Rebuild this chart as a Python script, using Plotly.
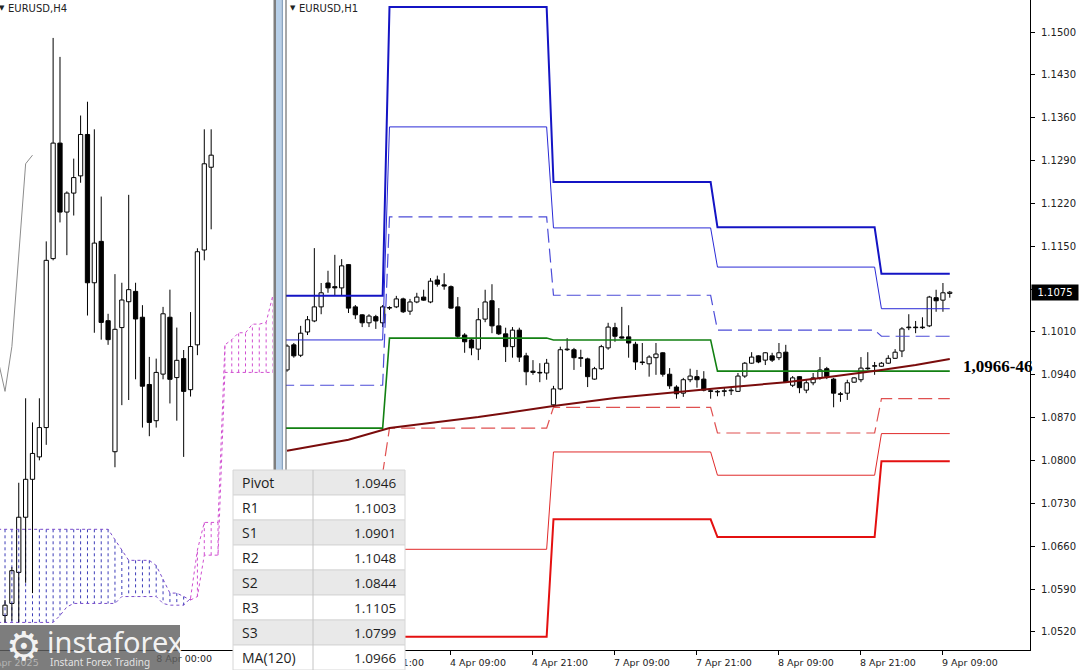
import plotly.graph_objects as go

W, H = 1082, 670

# ---------------- H1 chart data (3 Apr 09:00 ... 9 Apr 10:00, one bar per trading hour) -------------
h1_open = [1.0948, 1.0989, 1.0972, 1.1010, 1.1028, 1.1051, 1.1090, 1.1084, 1.1082, 1.1120,
           1.1051, 1.1038, 1.1025, 1.1035, 1.1025, 1.1049, 1.1051, 1.1064, 1.1044, 1.1059,
           1.1067, 1.1059, 1.1095, 1.1087, 1.1084, 1.1051, 1.1005, 1.0997, 1.0982, 1.1031,
           1.1061, 1.1020, 1.1007, 1.0986, 1.1013, 1.0971, 1.0946, 1.0944, 1.0943, 1.0891,
           1.0917, 1.0981, 1.0981, 1.0968, 1.0966, 1.0933, 1.0950, 1.0984, 1.1017, 1.1002,
           1.1002, 1.0990, 1.0961, 1.0958, 1.0968, 1.0976, 1.0941, 1.0920, 1.0910, 1.0932,
           1.0937, 1.0933, 1.0914, 1.0912, 1.0913, 1.0914, 1.0913, 1.0938, 1.0959, 1.0971,
           1.0964, 1.0971, 1.0968, 1.0977, 1.0923, 1.0937, 1.0915, 1.0927, 1.0935, 1.0950,
           1.0933, 1.0909, 1.0910, 1.0928, 1.0932, 1.0951, 1.0954, 1.0954, 1.0959, 1.0967,
           1.0979, 1.1017, 1.1018, 1.1017, 1.1020, 1.1066, 1.1062, 1.1073]
h1_high = [1.0990, 1.0992, 1.1020, 1.1036, 1.1147, 1.1090, 1.1110, 1.1136, 1.1129, 1.1121,
           1.1054, 1.1039, 1.1039, 1.1038, 1.1054, 1.1052, 1.1069, 1.1066, 1.1064, 1.1074,
           1.1079, 1.1098, 1.1102, 1.1106, 1.1086, 1.1067, 1.1008, 1.0999, 1.1049, 1.1079,
           1.1088, 1.1049, 1.1017, 1.1018, 1.1017, 1.0976, 1.0964, 1.0959, 1.0966, 1.0922,
           1.0986, 1.1000, 1.0984, 1.0981, 1.0968, 1.0953, 1.0989, 1.1025, 1.1025, 1.1051,
           1.1021, 1.0994, 1.0992, 1.0972, 1.0992, 1.0977, 1.0951, 1.0923, 1.0935, 1.0950,
           1.0948, 1.0946, 1.0917, 1.0915, 1.0919, 1.0919, 1.0943, 1.0961, 1.0977, 1.0972,
           1.0977, 1.0976, 1.0992, 1.0989, 1.0938, 1.0938, 1.0932, 1.0943, 1.0969, 1.0953,
           1.0935, 1.0912, 1.0932, 1.0936, 1.0969, 1.0977, 1.0961, 1.0961, 1.0972, 1.0982,
           1.1018, 1.1039, 1.1028, 1.1034, 1.1069, 1.1079, 1.1090, 1.1077]
h1_low = [1.0945, 1.0968, 1.0969, 1.1005, 1.1026, 1.1039, 1.1074, 1.1070, 1.1070, 1.1041,
          1.1031, 1.1018, 1.1018, 1.1015, 1.1018, 1.1046, 1.1049, 1.1041, 1.1038, 1.1057,
          1.1061, 1.1057, 1.1084, 1.1079, 1.1048, 1.1000, 1.0976, 1.0972, 1.0964, 1.1026,
          1.1008, 1.1005, 1.0961, 1.0968, 1.0961, 1.0923, 1.0940, 1.0928, 1.0932, 1.0886,
          1.0915, 1.0979, 1.0948, 1.0953, 1.0920, 1.0932, 1.0948, 1.0981, 1.0994, 1.0999,
          1.0968, 1.0948, 1.0956, 1.0937, 1.0940, 1.0937, 1.0917, 1.0901, 1.0904, 1.0928,
          1.0919, 1.0913, 1.0901, 1.0905, 1.0905, 1.0907, 1.0912, 1.0935, 1.0958, 1.0959,
          1.0956, 1.0961, 1.0964, 1.0927, 1.0920, 1.0910, 1.0910, 1.0923, 1.0932, 1.0933,
          1.0887, 1.0896, 1.0899, 1.0927, 1.0928, 1.0948, 1.0940, 1.0953, 1.0958, 1.0966,
          1.0969, 1.1013, 1.1008, 1.1015, 1.1018, 1.1043, 1.1043, 1.1066]
h1_close = [1.0987, 1.0971, 1.1008, 1.1030, 1.1051, 1.1074, 1.1082, 1.1082, 1.1118, 1.1049,
            1.1038, 1.1025, 1.1036, 1.1028, 1.1051, 1.1050, 1.1064, 1.1043, 1.1059, 1.1067,
            1.1062, 1.1093, 1.1088, 1.1085, 1.1049, 1.1003, 1.0994, 1.0984, 1.1030, 1.1059,
            1.1020, 1.1007, 1.0986, 1.1013, 1.0969, 1.0945, 1.0944, 1.0943, 1.0959, 1.0917,
            1.0981, 1.0982, 1.0968, 1.0967, 1.0937, 1.0950, 1.0986, 1.1018, 1.1003, 1.1000,
            1.0992, 1.0961, 1.0960, 1.0969, 1.0974, 1.0941, 1.0922, 1.0909, 1.0932, 1.0938,
            1.0932, 1.0915, 1.0913, 1.0913, 1.0914, 1.0915, 1.0938, 1.0959, 1.0969, 1.0961,
            1.0976, 1.0964, 1.0976, 1.0928, 1.0935, 1.0919, 1.0927, 1.0935, 1.0948, 1.0937,
            1.0910, 1.0908, 1.0927, 1.0935, 1.0951, 1.0950, 1.0955, 1.0959, 1.0967, 1.0977,
            1.1015, 1.1018, 1.1017, 1.1018, 1.1067, 1.1061, 1.1074, 1.1075]

h1_tick_bar = [12, 24, 36, 48, 60, 72, 84, 96]
h1_tick_text = ["3 Apr 21:00", "4 Apr 09:00", "4 Apr 21:00", "7 Apr 09:00",
                "7 Apr 21:00", "8 Apr 09:00", "8 Apr 21:00", "9 Apr 09:00"]
price_ticks = [1.0520, 1.0590, 1.0660, 1.0730, 1.0800, 1.0870, 1.0940, 1.1010,
               1.1080, 1.1150, 1.1220, 1.1290, 1.1360, 1.1430, 1.1500]
last_price = 1.1075

# daily classic pivot levels: 3 Apr, 4 Apr, 7 Apr, 8 Apr, 9 Apr
day_first_bar = [-1, 15, 39, 63, 87]
day_last_bar = [14, 38, 62, 86, 97]
pivot = [1.0853, 1.1000, 1.0997, 1.0946, 1.0946]
r1 = [1.0923, 1.1198, 1.1070, 1.1013, 1.1003]
s1 = [1.0779, 1.0853, 1.0887, 1.0845, 1.0901]
r2 = [1.0997, 1.1345, 1.1180, 1.1116, 1.1048]
s2 = [1.0709, 1.0655, 1.0814, 1.0776, 1.0844]
r3 = [1.1069, 1.1541, 1.1255, 1.1181, 1.1105]
s3 = [1.0635, 1.0512, 1.0704, 1.0675, 1.0799]

# MA(120) read at a few bars
ma120_bar = [0, 9, 15, 28, 39, 48, 63, 73, 79, 84, 87, 92, 97]
ma120_val = [1.0816, 1.0834, 1.0853, 1.0871, 1.0889, 1.0902, 1.0918, 1.0928,
             1.0936, 1.0943, 1.0948, 1.0956, 1.0966]

# ---------------- H4 chart data -----------------
h4_open = [1.0809, 1.0816, 1.0834, 1.0866, 1.0888, 1.0901, 1.0918, 1.1016, 1.1083, 1.1043,
           1.1054, 1.1064, 1.1088, 1.1002, 1.1026, 1.0980, 1.0904, 1.0976, 1.0991, 1.0997,
           1.0982, 1.0943, 1.0922, 1.0949, 1.0982, 1.0947, 1.0958, 1.0940, 1.0966, 1.1021,
           1.1069]
h4_high = [1.0818, 1.0837, 1.0886, 1.0935, 1.0921, 1.0935, 1.1026, 1.1144, 1.1133, 1.1055,
           1.1074, 1.1099, 1.1107, 1.1091, 1.1052, 1.0984, 1.1007, 1.1002, 1.1053, 1.1002,
           1.0989, 1.0959, 1.0958, 1.0988, 1.0998, 1.0976, 1.0963, 1.0985, 1.1022, 1.1091,
           1.1091]
h4_low = [1.0805, 1.0806, 1.0805, 1.0828, 1.0822, 1.0899, 1.0908, 1.1015, 1.1037, 1.1018,
          1.1041, 1.1060, 1.0983, 1.0973, 1.0969, 1.0966, 1.0895, 1.0931, 1.0934, 1.0946,
          1.0918, 1.0913, 1.0918, 1.0946, 1.0932, 1.0922, 1.0901, 1.0936, 1.0960, 1.1015,
          1.1033]
h4_close = [1.0815, 1.0835, 1.0866, 1.0888, 1.0903, 1.0918, 1.1015, 1.1083, 1.1043, 1.1054,
            1.1063, 1.1088, 1.1002, 1.1025, 1.0979, 1.0969, 1.0975, 1.0992, 1.0998, 1.0981,
            1.0942, 1.0921, 1.0950, 1.0984, 1.0946, 1.0957, 1.0939, 1.0965, 1.1020, 1.1071,
            1.1076]
h4_tick_bar = [22]
h4_tick_text = ["8 Apr 00:00"]

# Ichimoku cloud (bars -1 ... 39)
cloud_bar = list(range(-1, 40))
senkou_a = [1.0859] * 17 + [1.0853, 1.0847] + [1.0841] * 4 + [1.0838, 1.0830, 1.0822, 1.0822,
            1.0820, 1.0818, 1.0820] + [1.0844] * 3 + [1.0950] * 8
senkou_b = [1.0805] * 9 + [1.0809, 1.0814] + [1.0816] * 6 + [1.0816] + [1.0820] * 6 + \
           [1.0816, 1.0815, 1.0815, 1.0815, 1.0819, 1.0847] + [1.0863] * 3 + \
           [1.0966, 1.0969, 1.0973, 1.0973, 1.0978, 1.0978, 1.0979, 1.0995]

table_labels = ["Pivot", "R1", "S1", "R2", "S2", "R3", "S3", "MA(120)"]
table_values = [pivot[-1], r1[-1], s1[-1], r2[-1], s2[-1], r3[-1], s3[-1], ma120_val[-1]]


def px(x):
    return x / W


def py(y):
    return 1 - y / H


fig = go.Figure()


def add_candles(xs, o, h, l, c, xa, ya, width):
    wx, wy = [], []
    for x, oo, hh, ll, cc in zip(xs, o, h, l, c):
        top, bot = max(oo, cc), min(oo, cc)
        wx += [x, x, None, x, x, None]
        wy += [hh, top, None, bot, ll, None]
    fig.add_trace(go.Scatter(x=wx, y=wy, mode="lines", line=dict(color="black", width=1),
                             xaxis=xa, yaxis=ya, hoverinfo="skip", showlegend=False))
    fig.add_trace(go.Bar(x=xs, y=[abs(cc - oo) for oo, cc in zip(o, c)],
                         base=[min(oo, cc) for oo, cc in zip(o, c)], width=width,
                         marker=dict(color=["white" if cc >= oo else "black" for oo, cc in zip(o, c)],
                                     line=dict(color="black", width=1)),
                         xaxis=xa, yaxis=ya, hoverinfo="skip", showlegend=False))


# ---------- left panel: Ichimoku cloud ----------
blue_c, mag_c = "#3c3cb8", "#d04ed0"
for col in (blue_c, mag_c):
    xs, ys = [], []
    for k, a, b in zip(cloud_bar, senkou_a, senkou_b):
        cc = blue_c if a >= b else mag_c
        if cc == col:
            xs += [k, k, None]
            ys += [a, b, None]
    fig.add_trace(go.Scatter(x=xs, y=ys, mode="lines", line=dict(color=col, width=1, dash="dot"),
                             xaxis="x", yaxis="y", hoverinfo="skip", showlegend=False))
split = next(i for i, (a, b) in enumerate(zip(senkou_a, senkou_b)) if b > a)
for seg, col in ((slice(0, split + 1), "#7a4ccc"), (slice(split, None), mag_c)):
    for span in (senkou_a, senkou_b):
        fig.add_trace(go.Scatter(x=cloud_bar[seg], y=span[seg], mode="lines",
                                 line=dict(color=col, width=1, dash="dot"),
                                 xaxis="x", yaxis="y", hoverinfo="skip", showlegend=False))

# chikou span (close shifted 26 bars back)
h4_bar = list(range(len(h4_open)))
fig.add_trace(go.Scatter(x=[b - 26 for b in h4_bar[-6:]], y=h4_close[-6:], mode="lines",
                         line=dict(color="#8c8c8c", width=1), xaxis="x", yaxis="y",
                         hoverinfo="skip", showlegend=False))
add_candles(h4_bar, h4_open, h4_high, h4_low, h4_close, "x", "y", 0.62)

# ---------- right panel ----------
h1_bar = list(range(len(h1_open)))
add_candles(h1_bar, h1_open, h1_high, h1_low, h1_close, "x2", "y2", 0.62)


def level_line(vals, color, width, dash="solid"):
    xs, ys = [], []
    for f, l, v in zip(day_first_bar, day_last_bar, vals):
        xs += [f, l]
        ys += [v, v]
    fig.add_trace(go.Scatter(x=xs, y=ys, mode="lines", line=dict(color=color, width=width, dash=dash),
                             xaxis="x2", yaxis="y2", hoverinfo="skip", showlegend=False))


level_line(s1, "#e05050", 1.2, "14px,6px")
level_line(s2, "#e02a2a", 1)
level_line(s3, "#e41010", 2)
level_line(r1, "#4c4cd8", 1.2, "14px,6px")
level_line(r2, "#2a2ad6", 1)
level_line(r3, "#1414c4", 2)
level_line(pivot, "#128012", 1.6)
fig.add_trace(go.Scatter(x=ma120_bar, y=ma120_val, mode="lines", line=dict(color="#7a0c0c", width=2),
                         xaxis="x2", yaxis="y2", hoverinfo="skip", showlegend=False))

tick_font = dict(family="DejaVu Sans", size=9.5, color="#222222")
fig.update_layout(
    width=W, height=H, margin=dict(l=0, r=0, t=0, b=0),
    paper_bgcolor="white", plot_bgcolor="white", showlegend=False,
    barmode="overlay",
    xaxis=dict(domain=[0, px(273)], range=[-0.73, 39.0], showgrid=False, zeroline=False,
               showline=True, linecolor="black", linewidth=1, tickmode="array",
               tickvals=h4_tick_bar, ticktext=h4_tick_text, ticks="", ticklabelshift=28,
               tickfont=tick_font, fixedrange=True),
    yaxis=dict(domain=[20 / H, 1], range=[1.0789, 1.1166], showgrid=False, zeroline=False,
               showticklabels=False, showline=False, fixedrange=True),
    xaxis2=dict(domain=[px(286), px(1030)], range=[-0.146, 108.74], anchor="y2",
                showgrid=False, zeroline=False, showline=True, linecolor="black", linewidth=1,
                tickmode="array", tickvals=h1_tick_bar, ticktext=h1_tick_text,
                ticks="outside", ticklen=4, tickcolor="black", ticklabelshift=27,
                tickfont=tick_font),
    yaxis2=dict(domain=[20 / H, 1], range=[1.04905, 1.15523], anchor="x2", side="right",
                showgrid=False, zeroline=False, showline=True, linecolor="black", linewidth=1,
                tickmode="array", tickvals=price_ticks, ticktext=[f"{v:.4f}" for v in price_ticks],
                ticks="outside", ticklen=4, tickcolor="black", ticklabelstandoff=4,
                tickfont=dict(family="DejaVu Sans", size=10, color="#222222")),
)

shapes = []
# splitter between panels
shapes.append(dict(type="rect", xref="paper", yref="paper", x0=px(273.5), x1=px(276), y0=0, y1=1,
                   fillcolor="#7e7e7e", line=dict(width=0), layer="above"))
shapes.append(dict(type="rect", xref="paper", yref="paper", x0=px(276), x1=px(281.5), y0=0, y1=1,
                   fillcolor="#b8d0e9", line=dict(width=0), layer="above"))
shapes.append(dict(type="rect", xref="paper", yref="paper", x0=px(281.5), x1=px(283.2), y0=0, y1=1,
                   fillcolor="#8aa4c0", line=dict(width=0), layer="above"))
shapes.append(dict(type="rect", xref="paper", yref="paper", x0=px(283.2), x1=px(285.6), y0=0, y1=1,
                   fillcolor="white", line=dict(width=0), layer="above"))
shapes.append(dict(type="line", xref="paper", yref="paper", x0=px(286), x1=px(286), y0=py(650), y1=1,
                   line=dict(color="#505050", width=1), layer="above"))

# table
tx0, tx1, tdiv, ty0, row_h = 233, 405, 313, 470, 25
for i, lab in enumerate(table_labels):
    y0 = ty0 + i * row_h
    shapes.append(dict(type="rect", xref="paper", yref="paper", x0=px(tx0), x1=px(tx1),
                       y0=py(y0 + row_h), y1=py(y0),
                       fillcolor="#e9e9e9" if i % 2 == 0 else "white",
                       line=dict(color="#d6d6d6", width=1), layer="above"))
shapes.append(dict(type="line", xref="paper", yref="paper", x0=px(tdiv), x1=px(tdiv),
                   y0=0, y1=py(ty0), line=dict(color="#c4c4c4", width=1), layer="above"))

# instaforex logo box
shapes.append(dict(type="rect", xref="paper", yref="paper", x0=0, x1=px(180), y0=0, y1=py(625),
                   fillcolor="rgba(96,96,96,0.82)", line=dict(width=0), layer="above"))

fig.update_layout(shapes=shapes)

ann = []
# titles
ann.append(dict(xref="paper", yref="paper", x=px(288), y=py(8), xanchor="left", yanchor="middle",
                text="▼", showarrow=False, font=dict(family="DejaVu Sans", size=7, color="#222")))
ann.append(dict(xref="paper", yref="paper", x=px(297), y=py(8), xanchor="left", yanchor="middle",
                text="EURUSD,H1", showarrow=False, font=dict(family="DejaVu Sans", size=10, color="#222")))
ann.append(dict(xref="paper", yref="paper", x=px(-3), y=py(8), xanchor="left", yanchor="middle",
                text="▼", showarrow=False, font=dict(family="DejaVu Sans", size=7, color="#222")))
ann.append(dict(xref="paper", yref="paper", x=px(6), y=py(8), xanchor="left", yanchor="middle",
                text="EURUSD,H4", showarrow=False, font=dict(family="DejaVu Sans", size=10, color="#222")))
# left date label cut by the window edge
ann.append(dict(xref="paper", yref="paper", x=px(-16), y=py(662), xanchor="left", yanchor="middle",
                text="2 Apr 2025", showarrow=False, font=dict(family="DejaVu Sans", size=9.5, color="#b4b4b4")))
# key level text
ann.append(dict(xref="paper", yref="paper", x=px(961), y=py(366), xanchor="left", yanchor="middle",
                text="<b>1,0966-46</b>", showarrow=False,
                font=dict(family="Liberation Serif", size=17, color="black")))
# current price label
ann.append(dict(xref="paper", yref="y2", x=px(1031), y=last_price, xanchor="left", yanchor="middle",
                text=f"{last_price:.4f}", showarrow=False, bgcolor="black", width=44, height=13,
                font=dict(family="DejaVu Sans", size=10, color="white")))
# table text
for i, (lab, val) in enumerate(zip(table_labels, table_values)):
    yc = ty0 + i * row_h + row_h / 2
    ann.append(dict(xref="paper", yref="paper", x=px(240), y=py(yc), xanchor="left", yanchor="middle",
                    text=lab, showarrow=False, font=dict(family="Open Sans", size=14, color="#1e1e1e")))
    ann.append(dict(xref="paper", yref="paper", x=px(398), y=py(yc), xanchor="right", yanchor="middle",
                    text=f"{val:.4f}", showarrow=False, font=dict(family="Open Sans", size=13.5, color="#1e1e1e")))
# logo
ann.append(dict(xref="paper", yref="paper", x=px(24), y=py(646), xanchor="center", yanchor="middle",
                text="⚙", showarrow=False, font=dict(family="DejaVu Sans", size=40, color="rgba(255,255,255,0.92)")))
ann.append(dict(xref="paper", yref="paper", x=px(45), y=py(641), xanchor="left", yanchor="middle",
                text="instaforex", showarrow=False, font=dict(family="Noto Sans", size=29, color="rgba(255,255,255,0.93)")))
ann.append(dict(xref="paper", yref="paper", x=px(48), y=py(662), xanchor="left", yanchor="middle",
                text="Instant Forex Trading", showarrow=False, font=dict(family="Noto Sans", size=10, color="rgba(240,240,240,0.9)")))
fig.update_layout(annotations=ann)

fig.write_html("out.html", config={"displayModeBar": False},
               post_script="document.body.style.margin='0';document.body.style.overflow='hidden';")
